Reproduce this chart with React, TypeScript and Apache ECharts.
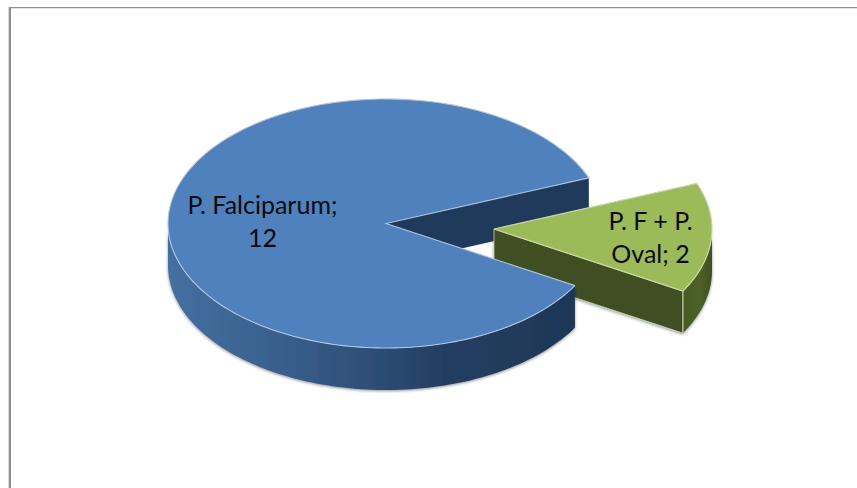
import React, { useEffect, useRef } from "react";
import * as echarts from "echarts";

// Infection counts by malaria parasite species
const sliceNames = ["P. F + P. Oval", "P. Falciparum"];
const sliceValues = [2, 12];
const sliceLabels = ["P. F + P.\nOval; 2", "P. Falciparum;\n12"];

const WIDTH = 857;
const HEIGHT = 488;

// Elliptical projection of the tilted disc
const RX = 218;
const RY = 124.5;
const DEPTH = 42;
const CENTER = [386, 223.5];
const EXPLODE = [108, 5.5];
const GAP_TOP_DEG = 21.5;

const total = sliceValues.reduce((a, b) => a + b, 0);
const smallSweep = (sliceValues[0] / total) * 360;
const smallStart = GAP_TOP_DEG - smallSweep;

type Pt = number[];

const onRim = (c: Pt, deg: number, drop = 0): Pt => {
  const r = (deg * Math.PI) / 180;
  return [c[0] + RX * Math.cos(r), c[1] - RY * Math.sin(r) + drop];
};

const arc = (c: Pt, from: number, to: number, drop = 0): Pt[] => {
  const n = Math.max(2, Math.ceil(Math.abs(to - from) / 1.5));
  const pts: Pt[] = [];
  for (let i = 0; i <= n; i++) pts.push(onRim(c, from + ((to - from) * i) / n, drop));
  return pts;
};

const grad = (x0: number, x1: number, stops: [number, string][]) =>
  new echarts.graphic.LinearGradient(
    x0,
    0,
    x1,
    0,
    stops.map(([offset, color]) => ({ offset, color })),
    true
  );

const haze = { shadowBlur: 3, shadowColor: "rgba(0,0,0,0.45)", shadowOffsetY: 1 };

const poly = (points: Pt[], style: object) => ({
  type: "polygon",
  shape: { points },
  style,
});

const line = (points: Pt[], stroke: string, width = 1.2) => ({
  type: "polyline",
  shape: { points },
  style: { fill: "none", stroke, lineWidth: width },
});

const label = (text: string, x: number, y: number) => ({
  type: "text",
  x,
  y,
  style: {
    text,
    fill: "#0a0a0a",
    font: '25px Lato, "Open Sans", sans-serif',
    lineHeight: 33,
    align: "center",
    verticalAlign: "middle",
  },
});

// Cut face of the large slice that shows through the gap, behind the detached slice
const renderBackWall = () => {
  const upper = onRim(CENTER, GAP_TOP_DEG);
  return {
    type: "group",
    children: [
      poly(
        [CENTER, upper, [upper[0], upper[1] + DEPTH], [CENTER[0], CENTER[1] + DEPTH]],
        { fill: "#1f3a5b" }
      ),
    ],
  };
};

const renderSmallSlice = (index: number) => {
  const c = [CENTER[0] + EXPLODE[0], CENTER[1] + EXPLODE[1]];
  const end = smallStart + smallSweep;
  const lower = onRim(c, smallStart);
  const top = [c, ...arc(c, smallStart, end)];
  return {
    type: "group",
    children: [
      poly([c, lower, [lower[0], lower[1] + DEPTH], [c[0], c[1] + DEPTH]], {
        fill: "#3f4f20",
        stroke: "#c5cfb0",
        lineWidth: 0.8,
        ...haze,
      }),
      poly([...arc(c, smallStart, 0), ...arc(c, 0, smallStart, DEPTH)], {
        fill: grad(lower[0], c[0] + RX, [
          [0, "#475923"],
          [0.6, "#4d6127"],
          [1, "#3f4f1f"],
        ]),
        ...haze,
      }),
      poly(top, { fill: "#9bbb59" }),
      line([...top, c], "#c9d8a6"),
      line([lower, [lower[0], lower[1] + DEPTH]], "#c5d0ae"),
      label(sliceLabels[index], 650.5, 236),
    ],
  };
};

const renderLargeSlice = (index: number) => {
  const c = CENTER;
  const start = GAP_TOP_DEG;
  const end = start + (sliceValues[index] / total) * 360;
  const rimEnd = onRim(c, end);
  const top = [c, ...arc(c, start, end)];
  return {
    type: "group",
    children: [
      poly([...arc(c, 180, end), ...arc(c, end, 180, DEPTH)], {
        fill: grad(c[0] - RX, rimEnd[0], [
          [0, "#44709f"],
          [0.25, "#3a6190"],
          [0.55, "#2a4a70"],
          [0.68, "#233e60"],
          [1, "#1e3856"],
        ]),
        ...haze,
      }),
      poly(top, { fill: "#4f81bd" }),
      line(arc(c, GAP_TOP_DEG, 180), "#b4c3d4", 1.1),
      line(arc(c, 180, end), "#b3c8e2", 1.1),
      line([onRim(c, start), c, rimEnd], "#a9c1df", 1.1),
      label(sliceLabels[index], 262.5, 220),
    ],
  };
};

export default function App() {
  const ref = useRef<HTMLDivElement>(null);

  useEffect(() => {
    const chart = echarts.init(ref.current!, null, { renderer: "svg" });
    chart.setOption({
      animation: false,
      backgroundColor: "#ffffff",
      graphic: [
        { type: "rect", shape: { x: 8, y: 7, width: 1, height: HEIGHT - 7 }, style: { fill: "#dcdcdc" } },
        { type: "rect", shape: { x: 9, y: 7, width: 2, height: HEIGHT - 7 }, style: { fill: "#8f8f8f" } },
        { type: "rect", shape: { x: 9, y: 7, width: WIDTH - 9, height: 1.2 }, style: { fill: "#8f8f8f" } },
      ],
      series: [
        {
          type: "custom",
          coordinateSystem: "none",
          silent: true,
          z: 1,
          data: [sliceValues[1]],
          renderItem: renderBackWall,
        },
        {
          type: "custom",
          coordinateSystem: "none",
          silent: true,
          z: 2,
          data: sliceNames.map((name, i) => ({ name, value: sliceValues[i] })),
          renderItem: (params: { dataIndex: number }) =>
            params.dataIndex === 0
              ? renderSmallSlice(params.dataIndex)
              : renderLargeSlice(params.dataIndex),
        },
      ],
    });
    return () => chart.dispose();
  }, []);

  return (
    <div
      ref={ref}
      style={{ position: "absolute", left: 0, top: 0, width: WIDTH, height: HEIGHT }}
    />
  );
}
